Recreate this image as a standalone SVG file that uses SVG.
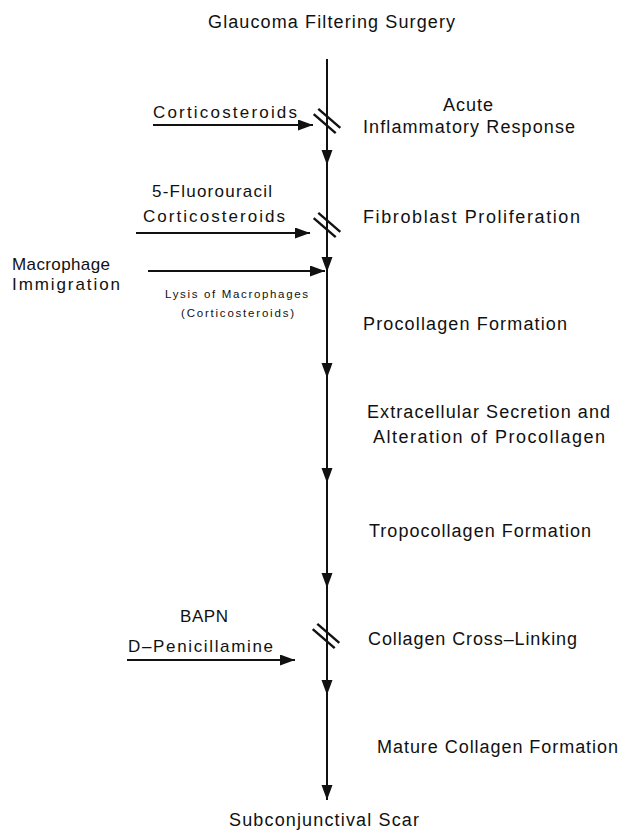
<svg xmlns="http://www.w3.org/2000/svg" width="621" height="833" viewBox="0 0 621 833">
<style>
text{font-family:"Liberation Sans",Arial,Helvetica,sans-serif;fill:#111;}
.t{font-size:18px;}
.l{font-size:17px;}
.s{font-size:11.5px;}
.ln{stroke:#111;stroke-width:2;fill:none;}
.hl{stroke:#111;stroke-width:1.8;fill:none;}
.hash{stroke:#111;stroke-width:2.4;fill:none;}
</style>
<defs>
<marker id="ah" markerUnits="userSpaceOnUse" markerWidth="16" markerHeight="12" refX="15" refY="5.5" orient="auto">
<path d="M0,0 L15,5.5 L0,11 z" fill="#111"/>
</marker>
<g id="hashmark">
<line x1="-8.7" y1="-12.2" x2="13.3" y2="6.8" class="hash"/>
<line x1="-13.3" y1="-6.8" x2="8.7" y2="12.2" class="hash"/>
</g>
</defs>
<rect width="621" height="833" fill="#fff"/>

<g id="connectors">
<path class="ln" d="M327,59 V165" marker-end="url(#ah)"/>
<path class="ln" d="M327,165 V272" marker-end="url(#ah)"/>
<path class="ln" d="M327,272 V378" marker-end="url(#ah)"/>
<path class="ln" d="M327,378 V483" marker-end="url(#ah)"/>
<path class="ln" d="M327,483 V588" marker-end="url(#ah)"/>
<path class="ln" d="M327,588 V695" marker-end="url(#ah)"/>
<path class="ln" d="M327,695 V800" marker-end="url(#ah)"/>
<path class="hl" d="M153,125 H313" marker-end="url(#ah)"/>
<path class="hl" d="M136,233 H310" marker-end="url(#ah)"/>
<path class="hl" d="M148,271 H325" marker-end="url(#ah)"/>
<path class="hl" d="M127,660 H295" marker-end="url(#ah)"/>
<use href="#hashmark" x="327" y="121"/>
<use href="#hashmark" x="327" y="225"/>
<use href="#hashmark" x="326" y="636"/>
</g>

<g id="node-surgery"><text class="t" x="208" y="28" textLength="247" lengthAdjust="spacing">Glaucoma  Filtering  Surgery</text></g>
<g id="node-acute">
<text class="t" x="443" y="111" textLength="50" lengthAdjust="spacing">Acute</text>
<text class="t" x="363" y="133" textLength="212" lengthAdjust="spacing">Inflammatory  Response</text>
</g>
<g id="node-fibroblast"><text class="t" x="363" y="223" textLength="217" lengthAdjust="spacing">Fibroblast  Proliferation</text></g>
<g id="node-procollagen"><text class="t" x="363" y="330" textLength="204" lengthAdjust="spacing">Procollagen  Formation</text></g>
<g id="node-secretion">
<text class="t" x="367" y="418" textLength="243" lengthAdjust="spacing">Extracellular  Secretion  and</text>
<text class="t" x="373" y="443" textLength="232" lengthAdjust="spacing">Alteration  of  Procollagen</text>
</g>
<g id="node-tropocollagen"><text class="t" x="369" y="537" textLength="222" lengthAdjust="spacing">Tropocollagen  Formation</text></g>
<g id="node-crosslinking"><text class="t" x="368" y="645" textLength="209" lengthAdjust="spacing">Collagen  Cross–Linking</text></g>
<g id="node-mature"><text class="t" x="377" y="753" textLength="241" lengthAdjust="spacing">Mature  Collagen  Formation</text></g>
<g id="node-scar"><text class="t" x="229" y="826" textLength="190" lengthAdjust="spacing">Subconjunctival  Scar</text></g>

<g id="node-corticosteroids1"><text class="l" x="153" y="118" textLength="144" lengthAdjust="spacing">Corticosteroids</text></g>
<g id="node-fluorouracil">
<text class="l" x="152" y="197" textLength="120" lengthAdjust="spacing">5-Fluorouracil</text>
<text class="l" x="143" y="222" textLength="142" lengthAdjust="spacing">Corticosteroids</text>
</g>
<g id="node-macrophage">
<text class="l" x="12" y="270" textLength="98" lengthAdjust="spacing">Macrophage</text>
<text class="l" x="12" y="290" textLength="108" lengthAdjust="spacing">Immigration</text>
</g>
<g id="node-lysis">
<text class="s" x="165" y="298" textLength="143" lengthAdjust="spacing">Lysis of Macrophages</text>
<text class="s" x="181" y="317" textLength="113" lengthAdjust="spacing">(Corticosteroids)</text>
</g>
<g id="node-bapn">
<text class="l" x="180" y="622" textLength="48" lengthAdjust="spacing">BAPN</text>
<text class="l" x="128" y="652" textLength="145" lengthAdjust="spacing">D–Penicillamine</text>
</g>
</svg>
